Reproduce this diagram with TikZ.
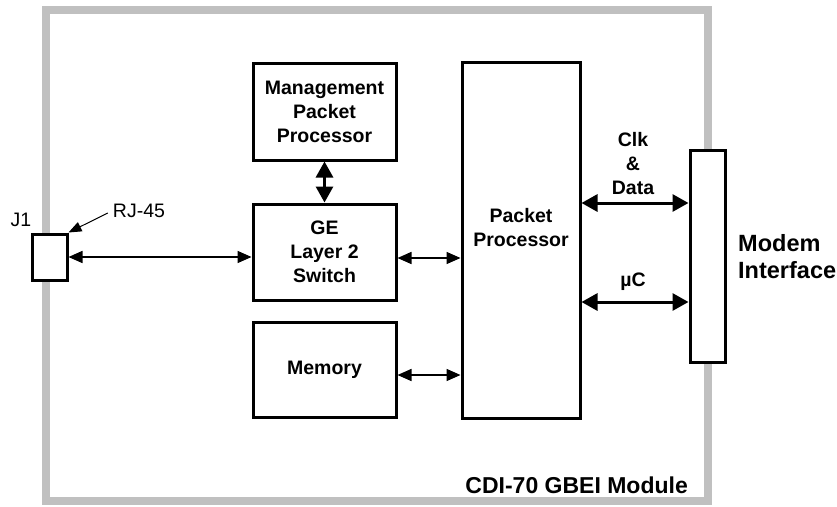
\documentclass[tikz,border=0pt]{standalone}
\usepackage{fontspec}
\setmainfont{Liberation Sans}
\usetikzlibrary{arrows.meta}
\definecolor{framegray}{RGB}{192,192,192}
\begin{document}
\begin{tikzpicture}[x=1pt,y=-1pt,
  box/.style={draw, line width=3pt, fill=white, align=center, inner sep=0pt,
    font=\bfseries\fontsize{19.5}{24}\selectfont},
  lbl/.style={align=center, inner sep=0pt, font=\bfseries\fontsize{19.5}{24}\selectfont},
  thinarrow/.style={line width=1.5pt, {Triangle[length=14pt,width=12pt]}-{Triangle[length=14pt,width=12pt]}},
  thickarrow/.style={line width=3pt, {Triangle[length=16pt,width=17pt]}-{Triangle[length=16pt,width=17pt]}},
  pointer/.style={line width=1pt, -{Triangle[length=13pt,width=10pt]}}
]
\useasboundingbox (0,0) rectangle (837,506);
\fill[white] (0,0) rectangle (837,506);
% module frame
\node[draw=framegray, line width=8pt, minimum width=662pt, minimum height=491pt, inner sep=0pt] (frame) at (377,255.5) {};
% blocks
\node[box, minimum width=143pt, minimum height=97pt] (mgmt) at (324.5,111.5) {Management\\Packet\\Processor};
\node[box, minimum width=143pt, minimum height=96pt] (ge) at (324.5,252) {GE\\Layer 2\\Switch};
\node[box, minimum width=143pt, minimum height=95pt] (mem) at (324.5,369.5) {Memory};
\node[box, minimum width=118pt, minimum height=356pt] (pp) at (521,240) {};
\node[lbl] (pptext) at (521,228) {Packet\\Processor};
\node[box, minimum width=35pt, minimum height=212pt] (modem) at (707.5,256) {};
\node[box, minimum width=35pt, minimum height=46pt] (j1) at (49.5,257) {};
% labels
\node[inner sep=0pt, font=\fontsize{19.5}{22}\selectfont] (j1lbl) at (21,220) {J1};
\node[inner sep=0pt, font=\fontsize{19.5}{22}\selectfont] (rj) at (139,211) {RJ-45};
\node[lbl] (clk) at (633,164) {Clk\\\&\\Data};
\node[lbl] (uc) at (633,282) {µC};
\node[align=left, inner sep=0pt, anchor=west, font=\bfseries\fontsize{23.5}{27}\selectfont] (modemlbl) at (738,256.5) {Modem\\Interface};
\node[inner sep=0pt, anchor=east, font=\bfseries\fontsize{23}{25}\selectfont] (module) at (688,485) {CDI-70 GBEI Module};
% connectors
\draw[pointer] ([xshift=-5pt,yshift=-2pt]rj.west) -- (j1.north east);
\draw[thinarrow] (j1.east) -- (j1.east -| ge.west);
\draw[thinarrow] ([yshift=-6pt]ge.east) -- ([yshift=-6pt]ge.east -| pp.west);
\draw[thinarrow] ([yshift=-5.5pt]mem.east) -- ([yshift=-5.5pt]mem.east -| pp.west);
\draw[thickarrow] (mgmt.south) -- (ge.north);
\draw[thickarrow] ([yshift=37pt]pp.east) -- ([yshift=37pt]pp.east -| modem.west);
\draw[thickarrow] ([yshift=-62pt]pp.east) -- ([yshift=-62pt]pp.east -| modem.west);
\end{tikzpicture}
\end{document}
